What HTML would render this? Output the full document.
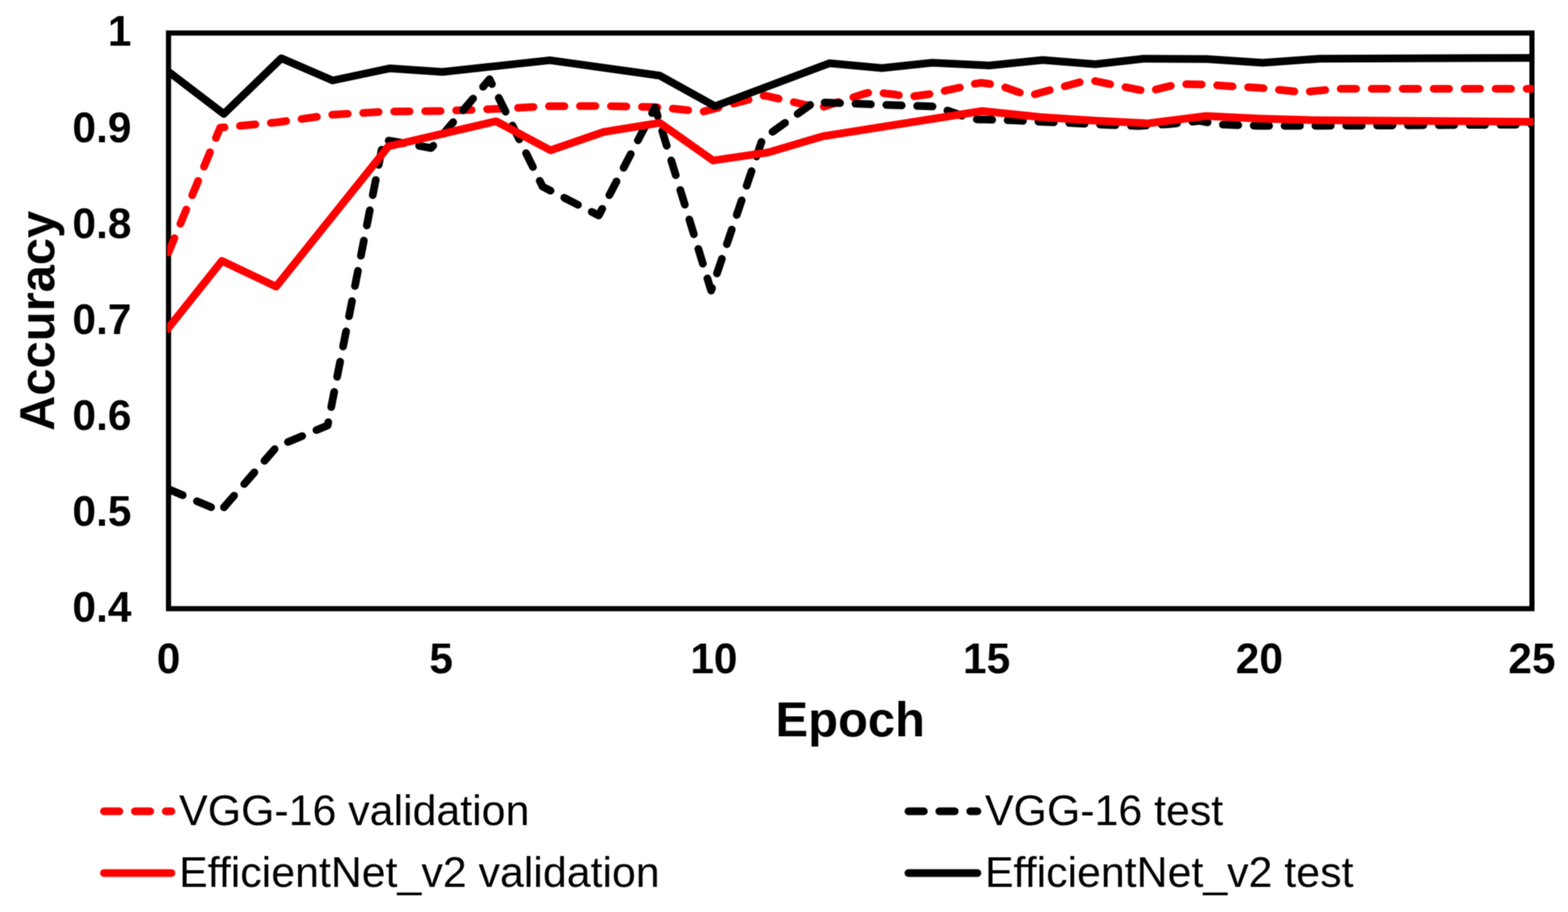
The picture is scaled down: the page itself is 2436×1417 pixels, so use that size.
<!DOCTYPE html>
<html lang="en"><head><meta charset="utf-8"><title>Accuracy vs Epoch</title>
<style>
html,body{margin:0;padding:0;background:#fff;}
body{width:2436px;height:1417px;overflow:hidden;}
svg{display:block;}
text{font-family:"Liberation Sans",sans-serif;fill:#000;}
.tick{font-size:66px;font-weight:700;}
.title{font-size:76px;font-weight:700;}
.leg{font-size:66.6px;font-weight:400;}
.s{fill:none;stroke-width:12;stroke-linejoin:round;}
.d{stroke-dasharray:24 24;stroke-linecap:round;}
.r{stroke:#ff0000;}.k{stroke:#000;}
</style></head><body>
<svg width="2436" height="1417" viewBox="0 0 2436 1417">
<rect x="0" y="0" width="2436" height="1417" fill="#fff"/>
<defs><filter id="soft" x="0" y="0" width="100%" height="100%" filterUnits="objectBoundingBox" color-interpolation-filters="sRGB"><feConvolveMatrix order="3" kernelMatrix="1 2 1 2 4 2 1 2 1" divisor="16" edgeMode="duplicate" preserveAlpha="true"/></filter></defs>
<g filter="url(#soft)">
<rect x="0" y="0" width="2436" height="1417" fill="#fff"/>
<defs><clipPath id="cp"><rect x="259.6" y="51.3" width="2122.9" height="894.4"/></clipPath></defs>
<rect x="261.8" y="51.3" width="2118.2" height="894.4" fill="none" stroke="#000" stroke-width="8.0" stroke-linejoin="miter"/>
<g clip-path="url(#cp)">
<polyline class="s d r" style="stroke-dasharray:24.07 24.07" points="261.8,392.3 342.0,198.5 431.0,190.0 516.0,178.3 600.0,173.3 685.0,172.5 770.0,169.2 855.0,165.0 940.0,164.7 1024.0,166.7 1092.0,173.5 1188.0,148.3 1273.0,168.0 1324.0,151.7 1345.0,145.0 1358.0,142.8 1372.0,144.8 1390.0,146.8 1412.0,150.6 1445.5,146.0 1493.0,135.6 1510.0,130.8 1525.0,128.6 1540.0,130.8 1558.0,134.5 1585.7,144.3 1596.0,147.8 1606.0,147.0 1632.0,139.7 1660.0,132.5 1680.0,127.0 1691.0,125.2 1702.0,126.0 1725.5,131.0 1772.6,140.2 1783.0,142.0 1793.3,139.7 1821.0,132.8 1840.5,130.8 1869.2,131.3 1888.7,132.4 1917.5,134.5 1956.0,136.4 2023.0,143.3 2078.0,138.0 2380.0,138.0"/>
<polyline class="s d k" style="stroke-dasharray:23.965 23.965" points="261.8,760.0 342.6,794.3 430.0,694.0 509.0,661.0 596.0,217.0 670.0,230.0 760.5,123.0 843.0,290.0 930.2,334.8 1017.6,167.0 1104.8,451.5 1184.5,216.0 1265.0,158.5 1363.0,162.5 1448.0,165.3 1462.0,168.3 1510.0,185.2 1575.0,187.1 1623.0,189.4 1675.0,191.7 1720.0,194.0 1768.0,195.7 1815.0,193.0 1864.0,187.8 1893.0,193.4 1956.0,195.5 2100.0,195.3 2250.0,194.3 2380.0,193.6"/>
<polyline class="s r" stroke-linecap="square" points="261.8,509.3 344.8,405.3 429.0,445.3 603.5,227.3 770.7,188.4 855.3,233.5 938.0,205.0 1025.0,190.9 1107.8,249.4 1193.8,236.8 1278.5,211.7 1525.8,172.5 1617.5,182.0 1702.0,187.5 1783.0,191.7 1874.0,180.3 1956.0,184.3 2041.0,186.7 2380.0,189.2"/>
<polyline class="s k" stroke-linecap="square" points="261.8,111.4 347.7,177.0 437.0,90.6 516.7,125.0 606.0,106.2 687.5,111.7 854.5,93.6 1025.0,117.5 1110.8,165.0 1288.3,98.3 1370.0,105.8 1448.0,97.5 1536.7,101.7 1620.0,93.3 1701.7,99.7 1776.7,91.3 1875.0,91.7 1961.7,97.5 2050.0,91.3 2380.0,90.0"/>
</g>
<text class="tick" x="204.3" y="70.8" text-anchor="end">1</text>
<text class="tick" x="204.3" y="220.6" text-anchor="end">0.9</text>
<text class="tick" x="204.3" y="369.6" text-anchor="end">0.8</text>
<text class="tick" x="204.3" y="518.7" text-anchor="end">0.7</text>
<text class="tick" x="204.3" y="667.8" text-anchor="end">0.6</text>
<text class="tick" x="204.3" y="816.8" text-anchor="end">0.5</text>
<text class="tick" x="204.3" y="965.9" text-anchor="end">0.4</text>
<text class="tick" x="261.8" y="1045.6" text-anchor="middle">0</text>
<text class="tick" x="685.4" y="1045.6" text-anchor="middle">5</text>
<text class="tick" x="1109.1" y="1045.6" text-anchor="middle">10</text>
<text class="tick" x="1532.7" y="1045.6" text-anchor="middle">15</text>
<text class="tick" x="1956.4" y="1045.6" text-anchor="middle">20</text>
<text class="tick" x="2380.0" y="1045.6" text-anchor="middle">25</text>
<text class="title" x="1320.9" y="1143.7" text-anchor="middle">Epoch</text>
<text class="title" transform="translate(84,498.5) rotate(-90)" text-anchor="middle">Accuracy</text>
<line class="s d r" x1="161.5" y1="1260.4" x2="266.3" y2="1260.4"/>
<text class="leg" x="278.3" y="1281.7">VGG-16 validation</text>
<line class="s d k" x1="1411.3" y1="1260.4" x2="1518.5" y2="1260.4"/>
<text class="leg" x="1530.2" y="1281.7">VGG-16 test</text>
<line class="s r" stroke-linecap="round" x1="161.5" y1="1356.6" x2="266.3" y2="1356.6"/>
<text class="leg" x="278.3" y="1377.9">EfficientNet_v2 validation</text>
<line class="s k" stroke-linecap="round" x1="1411.3" y1="1356.6" x2="1518.5" y2="1356.6"/>
<text class="leg" x="1530.2" y="1377.9">EfficientNet_v2 test</text>
</g>
</svg>
</body></html>
